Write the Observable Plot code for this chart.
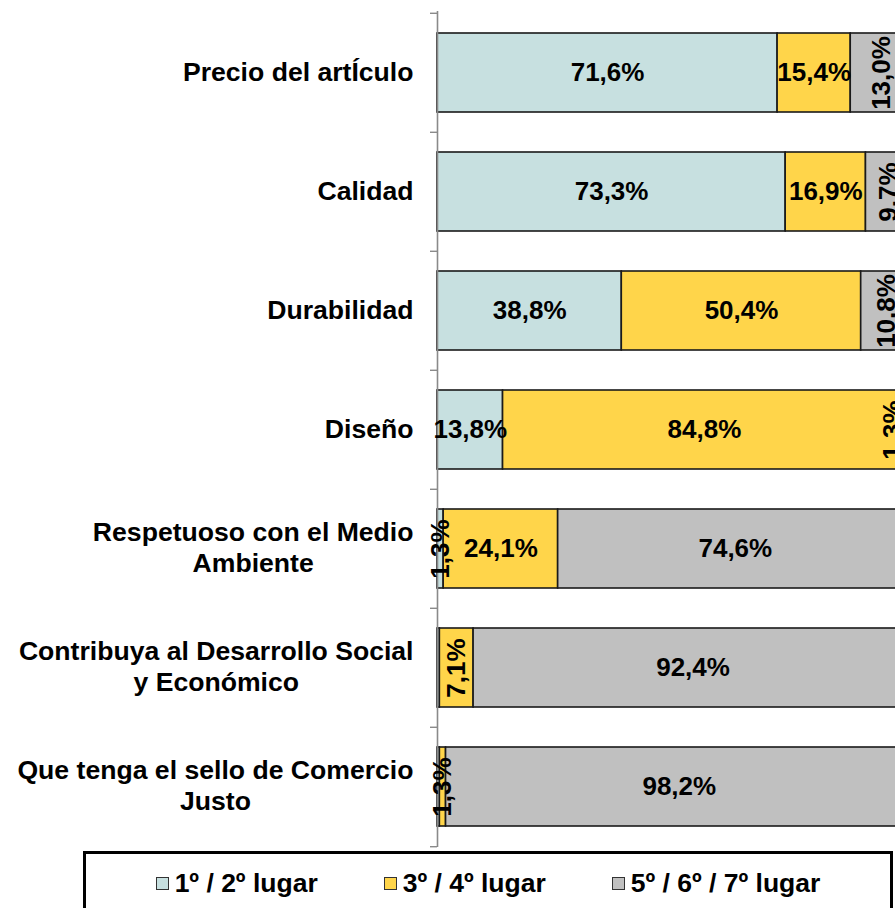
<!DOCTYPE html>
<html>
<head>
<meta charset="utf-8">
<script src="https://cdn.jsdelivr.net/npm/d3@7"></script>
<script src="https://cdn.jsdelivr.net/npm/@observablehq/plot@0.6"></script>
<style>
  html, body { margin: 0; padding: 0; background: #fff; overflow: hidden; }
  body { width: 895px; height: 908px; font-family: "Liberation Sans", Arial, sans-serif; }
  #chart svg { overflow: hidden; display: block; }
  .legend {
    margin-left: 83px; width: 804px; height: 70px;
    border: 3px solid #000; box-sizing: content-box;
    display: flex; justify-content: center; align-items: flex-start;
    padding-top: 14px; gap: 66px;
    font-family: "Liberation Sans", Arial, sans-serif; font-weight: bold; font-size: 26.5px;
    line-height: 30px; color: #000;
  }
  .legend .item { display: flex; align-items: center; white-space: nowrap; }
  .legend .sw { width: 11px; height: 11px; border: 1.5px solid #333; margin-right: 6px; }
</style>
</head>
<body>
<div id="chart"></div>
<script>
// ---- data ----
const categories = [
  "Precio del artÍculo",
  "Calidad",
  "Durabilidad",
  "Diseño",
  "Respetuoso con el Medio\nAmbiente",
  "Contribuya al Desarrollo Social\ny Económico",
  "Que tenga el sello de Comercio\nJusto"
];
const series = ["1º / 2º lugar", "3º / 4º lugar", "5º / 6º / 7º lugar"];
const lugar12  = [71.6, 73.3, 38.8, 13.8, 1.3, 0.5, 0.5];
const lugar34  = [15.4, 16.9, 50.4, 84.8, 24.1, 7.1, 1.3];
const lugar567 = [13.0, 9.7, 10.8, 1.3, 74.6, 92.4, 98.2];
const colors = ["#C7E0E0", "#FFD54A", "#C0C0C0"];

// ---- layout ----
const W = 895, H = 851;
const xRange = [437, 912];
const yRange = [11, 847];
const xs = d3.scaleLinear([0, 100], xRange);
const step = (yRange[1] - yRange[0]) / categories.length;

// stacking
const valuesBySeries = [lugar12, lugar34, lugar567];
const rows = [];
categories.forEach((cat, i) => {
  let cum = 0;
  series.forEach((s, j) => {
    const v = valuesBySeries[j][i];
    rows.push({cat, series: s, value: v, x1: cum, x2: cum + v, mid: cum + v / 2});
    cum += v;
  });
});
const fmt = v => v.toFixed(1).replace(".", ",") + "%";
const maxLabelX = xs.invert(W - 3);
rows.forEach(d => { d.lx = Math.min(d.mid, maxLabelX); d.label = fmt(d.value); });

// category label centering (multi-line centred on widest line, right edge at 413px)
const catFont = 26.6;
const ctx = document.createElement("canvas").getContext("2d");
ctx.font = `bold ${catFont}px 'Liberation Sans', Arial, sans-serif`;
const catX = new Map(categories.map(c => {
  const w = Math.max(...c.split("\n").map(l => ctx.measureText(l).width));
  return [c, xs.invert(413 - w / 2)];
}));

const plot = Plot.plot({
  width: W,
  height: H,
  marginTop: yRange[0],
  marginBottom: H - yRange[1],
  marginLeft: xRange[0],
  marginRight: 0,
  style: {fontFamily: "'Liberation Sans', Arial, sans-serif", background: "#fff", overflow: "hidden"},
  x: {domain: [0, 100], range: xRange, axis: null},
  y: {domain: categories, range: yRange, paddingInner: 0.34, paddingOuter: 0.17, axis: null},
  color: {domain: series, range: colors},
  marks: [
    Plot.barX(rows, {x1: "x1", x2: "x2", y: "cat", fill: "series", stroke: "#1a1a1a", strokeWidth: 1.6}),
    Plot.ruleX([0], {stroke: "#8a8a8a", strokeWidth: 1.6}),
    Plot.ruleY(categories, {y: d => d, x1: 0, x2: 0, insetLeft: -7, dy: -step / 2, stroke: "#8a8a8a", strokeWidth: 1.4}),
    Plot.ruleY(categories.slice(-1), {y: d => d, x1: 0, x2: 0, insetLeft: -7, dy: step / 2, stroke: "#8a8a8a", strokeWidth: 1.4}),
    Plot.text(rows.filter(d => d.value >= 1), {
      x: "lx", y: "cat", text: "label",
      rotate: d => d.value < 13.5 ? -90 : 0,
      fontSize: 26, fontWeight: "bold", fill: "#000"
    }),
    Plot.text(categories, {
      x: d => catX.get(d), y: d => d, text: d => d, dy: -2,
      textAnchor: "middle", fontSize: catFont, fontWeight: "bold", lineHeight: 1.16, fill: "#000"
    })
  ]
});
document.getElementById("chart").appendChild(plot);

// legend
const legend = document.createElement("div");
legend.className = "legend";
series.forEach((s, j) => {
  const item = document.createElement("div");
  item.className = "item";
  const sw = document.createElement("span");
  sw.className = "sw";
  sw.style.background = colors[j];
  const t = document.createElement("span");
  t.textContent = s;
  item.appendChild(sw); item.appendChild(t);
  legend.appendChild(item);
});
document.body.appendChild(legend);
</script>
</body>
</html>
